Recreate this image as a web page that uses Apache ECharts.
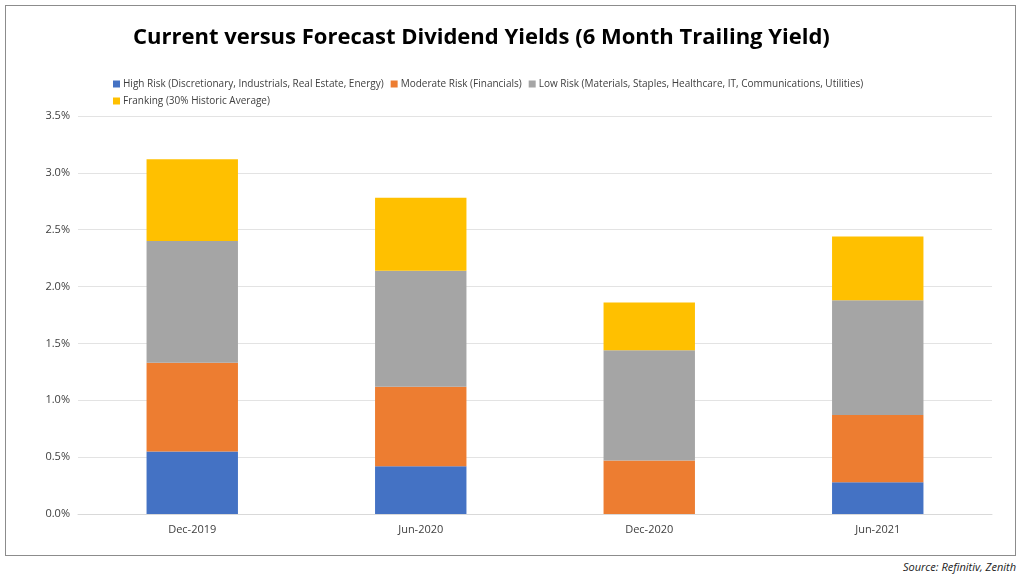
<!DOCTYPE html>
<html lang="en">
<head>
<meta charset="UTF-8">
<title>Dividend Yields</title>
<style>
  html,body{margin:0;padding:0;background:#fff;}
  #box{position:absolute;left:5px;top:5px;width:1009px;height:549px;border:1px solid #8c8c8c;}
  #src{position:absolute;right:8px;top:559px;font:italic 11px "Open Sans",sans-serif;color:#222;}
</style>
</head>
<body>
<div id="box"></div>
<div id="myChart" style="position:absolute;left:0;top:0;width:1024px;height:558px;"></div>
<div id="src">Source: Refinitiv, Zenith</div>
<script src="https://cdn.jsdelivr.net/npm/echarts@6/dist/echarts.min.js"></script>
<script>
var categories = ['Dec-2019', 'Jun-2020', 'Dec-2020', 'Jun-2021'];
var highRisk = [0.55, 0.42, 0, 0.28];
var moderateRisk = [0.78, 0.70, 0.47, 0.59];
var lowRisk = [1.07, 1.02, 0.97, 1.01];
var franking = [0.72, 0.64, 0.42, 0.56];
var seriesNames = [
    'High Risk (Discretionary, Industrials, Real Estate, Energy)',
    'Moderate Risk (Financials)',
    'Low Risk (Materials, Staples, Healthcare, IT, Communications, Utilities)',
    'Franking (30% Historic Average)'
];
var colors = ['#4472c4', '#ed7d31', '#a5a5a5', '#ffc000'];
var values = [highRisk, moderateRisk, lowRisk, franking];

var myChart = echarts.init(document.getElementById('myChart'));
var font = '"Open Sans", "Segoe UI", sans-serif';

var series = values.map(function (v, i) {
    return {
        name: seriesNames[i],
        type: 'bar',
        stack: 'total',
        barWidth: '40%',
        itemStyle: {color: colors[i]},
        data: v
    };
});

myChart.setOption({
    animation: false,
    color: colors,
    title: {
        text: 'Current versus Forecast Dividend Yields (6 Month Trailing Yield)',
        left: 128, top: 22,
        textStyle: {fontFamily: font, fontSize: 22, fontWeight: 'bold', color: '#000'}
    },
    legend: {
        top: 74, left: 108,
        itemWidth: 7, itemHeight: 7, itemGap: 7,
        icon: 'rect',
        textStyle: {fontFamily: font, fontSize: 10, color: '#404040', padding: [0, 0, 0, -2]}
    },
    grid: {left: 78, right: 32, top: 116, bottom: 44},
    xAxis: {
        type: 'category',
        data: categories,
        axisTick: {show: false},
        axisLine: {lineStyle: {color: '#d9d9d9'}},
        axisLabel: {fontFamily: font, fontSize: 11, color: '#404040', margin: 10}
    },
    yAxis: {
        type: 'value',
        min: 0, max: 3.5, interval: 0.5,
        axisLabel: {fontFamily: font, fontSize: 11, color: '#404040',
            formatter: function (v) { return v.toFixed(1) + '%'; }},
        splitLine: {lineStyle: {color: '#e3e3e3'}}
    },
    series: series
});
</script>
</body>
</html>
